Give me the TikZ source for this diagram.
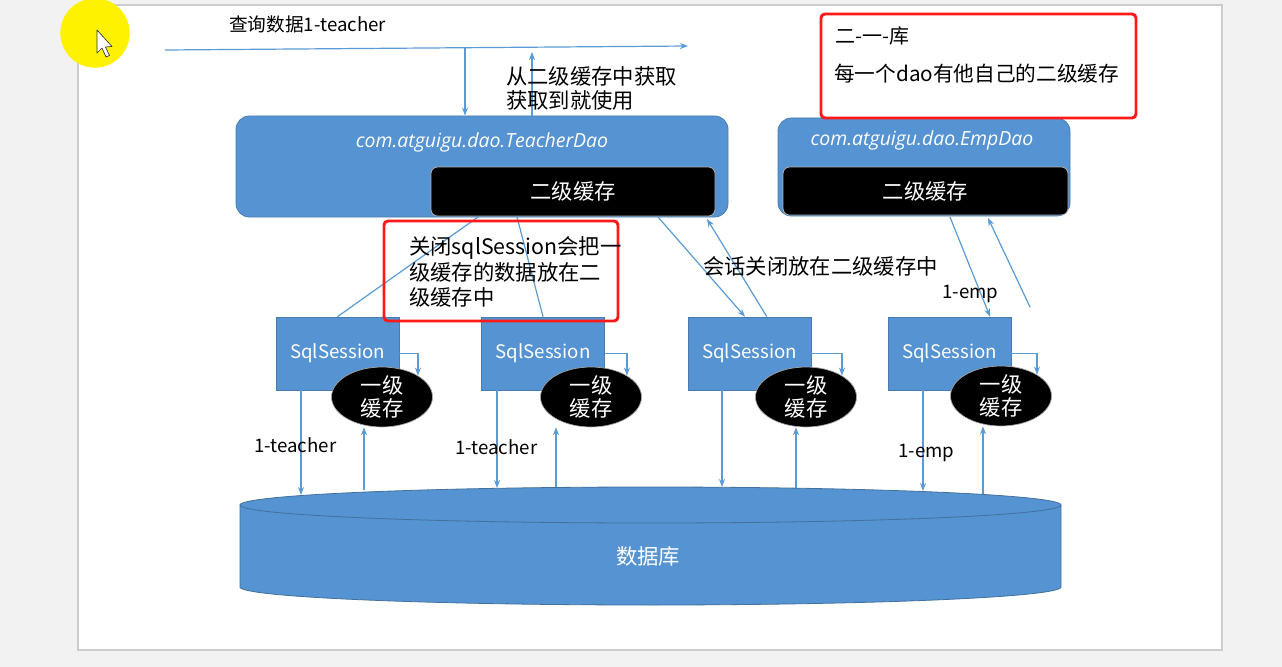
\documentclass[tikz,border=0pt]{standalone}
\usepackage{fontspec}
\setmainfont{Noto Sans CJK SC}
\newfontfamily\latit{Open Sans}
\usetikzlibrary{shapes.geometric,arrows.meta,calc}
\definecolor{fillblue}{HTML}{5693D2}
\definecolor{lineblue}{HTML}{5B9BD5}
\definecolor{edgeblue}{HTML}{41719C}
\definecolor{redbox}{HTML}{FF1A1A}
\definecolor{bggray}{HTML}{F2F2F2}
\definecolor{hilite}{HTML}{FFF200}
\begin{document}
\begin{tikzpicture}[x=0.75pt,y=-0.75pt,
  arr/.style={draw=lineblue,line width=0.9pt,-{Stealth[length=6pt,width=4.5pt]}},
  ln/.style={draw=lineblue,line width=0.9pt},
  dao/.style={rectangle,rounded corners=10pt,fill=fillblue,draw=fillblue!85!black,line width=0.6pt,inner sep=0pt},
  cache/.style={rectangle,rounded corners=5pt,fill=black,draw=gray!60,line width=0.6pt,text=white,font=\fontsize{16}{19}\selectfont,inner sep=0pt},
  sess/.style={rectangle,fill=fillblue,draw=fillblue!85!black,line width=0.5pt,minimum width=92.25pt,minimum height=54.75pt,text=white,font=\fontsize{14}{17}\selectfont,inner sep=0pt},
  lone/.style={ellipse,fill=black,draw=gray!70,line width=0.5pt,minimum width=75.75pt,minimum height=36pt,inner sep=0pt,text=white,align=center,font=\fontsize{16}{17}\selectfont},
  note/.style={rectangle,draw=redbox,line width=2.2pt,rounded corners=3pt,inner sep=0pt},
  txt/.style={text=black,inner sep=0pt,anchor=west,align=left},
  daotitle/.style={text=white,inner sep=0pt,font=\latit\itshape\fontsize{14.6}{17}\selectfont},
]
\useasboundingbox (0,0) rectangle (1282,667);
% background / slide
\fill[bggray] (0,0) rectangle (1282,667);
\draw[fill=white,draw=gray!40,line width=0.8pt] (78,5) rectangle (1222,650);

% cursor highlight
\fill[hilite] (95,33) circle [radius=26pt];
\draw[fill=white,draw=black!80,line width=0.5pt,line join=round]
  (97,30) -- (97,53) -- (102,48) -- (106,57) -- (109.5,55.5) -- (105.5,47) -- (112,46.5) -- cycle;

% top query line
\node[txt,font=\fontsize{14}{17}\selectfont] (qtitle) at (229,24) {查询数据1-teacher};
\coordinate (qs) at (165,50);
\coordinate (qe) at (688,46);
\draw[arr] (qs) -- (qe);

% DAO boxes
\node[dao,minimum width=369pt,minimum height=75.75pt] (td) at (482,166.5) {};
\node[daotitle] (tdt) at (482,142) {com.atguigu.dao.TeacherDao};
\node[cache,minimum width=213pt,minimum height=36.75pt] (tc) at (573,191.5) {二级缓存};

\node[dao,minimum width=219pt,minimum height=73.5pt] (ed) at (924,167) {};
\node[daotitle] (edt) at (922,140) {com.atguigu.dao.EmpDao};
\node[cache,minimum width=213.75pt,minimum height=36pt] (ec) at (925.5,191) {二级缓存};

% arrows between query line and TeacherDao
\coordinate (q1) at (465,48);
\coordinate (q2) at (532,52);
\draw[arr] (q1) -- (q1 |- td.north);
\draw[arr] (q2 |- td.north) -- (q2);
\node[txt,font=\fontsize{16}{18}\selectfont] (getnote) at (506,88) {从二级缓存中获取\\获取到就使用};

% red note top right
\node[note,minimum width=236.25pt,minimum height=78pt] (n1) at (978.5,66) {};
\node[txt,font=\fontsize{15}{18}\selectfont] (n1a) at (835,36) {二-一-库};
\node[txt,font=\fontsize{15.5}{18}\selectfont] (n1b) at (834,74) {每一个dao有他自己的二级缓存};

% sessions
\node[sess] (s1) at (337.5,353.5) {SqlSession};
\node[sess] (s2) at (543,353.5) {SqlSession};
\node[sess] (s3) at (749.5,353.5) {SqlSession};
\node[sess] (s4) at (949.5,353.5) {SqlSession};

% first level caches
\node[lone] (e1) at (382,397) {一级\\缓存};
\node[lone] (e2) at (591,397) {一级\\缓存};
\node[lone] (e3) at (806,397) {一级\\缓存};
\node[lone] (e4) at (1001,396) {一级\\缓存};

\draw[arr] (s1.east) -| (e1.north east);
\draw[arr] (s2.east) -| (e2.north east);
\draw[arr] (s3.east) -| (e3.north east);
\draw[arr] (s4.east) -| (e4.north east);

% lines between TeacherDao and sessions
\coordinate (t1) at (478,217);
\coordinate (t2) at (517,217);
\coordinate (t3) at (658,217);
\coordinate (t4) at (707,219);
\draw[ln] (t1) -- (s1.north);
\draw[ln] (t2) -- (s2.north);
\draw[arr] (t3) -- ([xshift=-3.4pt]s3.north);
\draw[arr] ([xshift=13pt]s3.north) -- (t4);

% lines between EmpDao and session 4
\coordinate (m1) at (950,217);
\coordinate (m2s) at (1030,307);
\coordinate (m2e) at (988,218);
\draw[arr] (m1) -- ([xshift=30.4pt]s4.north);
\draw[arr] (m2s) -- (m2e);

% red note middle
\node[note,minimum width=175.5pt,minimum height=75pt] (n2) at (501,271) {};
\node[txt,font=\fontsize{16}{19}\selectfont] (n2t) at (409,272) {关闭sqlSession会把一\\级缓存的数据放在二\\级缓存中};

\node[txt,font=\fontsize{16}{18}\selectfont] (closenote) at (703,266) {会话关闭放在二级缓存中};
\node[txt,font=\fontsize{14}{17}\selectfont] (emp1) at (942,294) {1-emp};

% database
\fill[fillblue] (240,505) -- (240,587) arc[start angle=180,end angle=360,x radius=307.875pt,y radius=13.5pt] -- (1061,505) arc[start angle=0,end angle=180,x radius=307.875pt,y radius=13.5pt] -- cycle;
\draw[edgeblue,line width=0.6pt] (240,505) -- (240,587) arc[start angle=180,end angle=360,x radius=307.875pt,y radius=13.5pt] -- (1061,505);
\draw[edgeblue,line width=0.6pt] (650.5,505) ellipse [x radius=307.875pt,y radius=13.5pt];
\node[text=white,font=\fontsize{16}{19}\selectfont,inner sep=0pt] (db) at (648,556) {数据库};

% session <-> database
\coordinate (d1) at (301,495);
\coordinate (u1) at (364,490);
\coordinate (d2) at (497,488);
\coordinate (u2) at (556,487);
\coordinate (d3) at (722,487);
\coordinate (u3) at (796,488);
\coordinate (d4) at (923,491);
\coordinate (u4) at (983,494);
\draw[arr] (s1.south -| d1) -- (d1);
\draw[arr] (u1) -- (u1 |- e1.south);
\draw[arr] (s2.south -| d2) -- (d2);
\draw[arr] (u2) -- (u2 |- e2.south);
\draw[arr] (s3.south -| d3) -- (d3);
\draw[arr] (u3) -- (u3 |- e3.south);
\draw[arr] (s4.south -| d4) -- (d4);
\draw[arr] (u4) -- (u4 |- e4.south);

\node[txt,font=\fontsize{14}{17}\selectfont] (lt1) at (254,445) {1-teacher};
\node[txt,font=\fontsize{14}{17}\selectfont] (lt2) at (455,447) {1-teacher};
\node[txt,font=\fontsize{14}{17}\selectfont] (le4) at (898,453) {1-emp};
\end{tikzpicture}
\end{document}
